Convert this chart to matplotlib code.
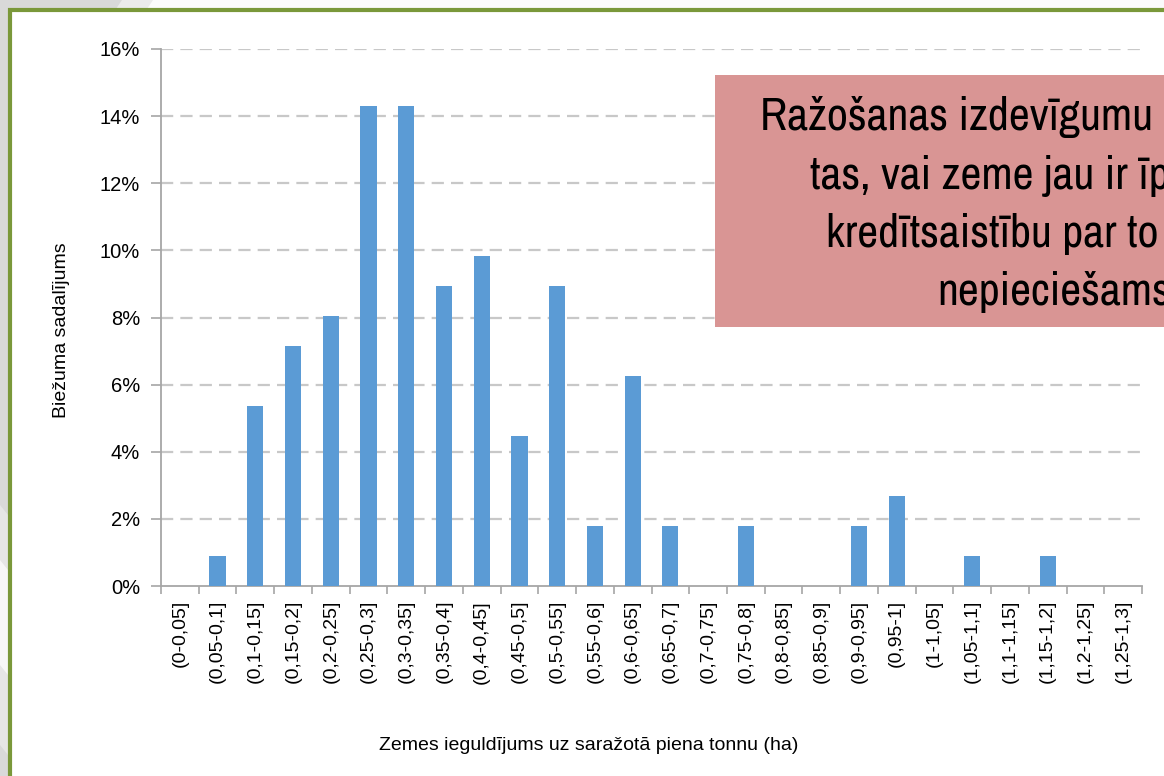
import matplotlib
matplotlib.use("Agg")
import matplotlib.pyplot as plt
from matplotlib import font_manager
from matplotlib.patches import Rectangle, Polygon
from matplotlib.ticker import FuncFormatter

categories = ["(0-0,05]", "(0,05-0,1]", "(0,1-0,15]", "(0,15-0,2]", "(0,2-0,25]",
              "(0,25-0,3]", "(0,3-0,35]", "(0,35-0,4]", "(0,4-0,45]", "(0,45-0,5]",
              "(0,5-0,55]", "(0,55-0,6]", "(0,6-0,65]", "(0,65-0,7]", "(0,7-0,75]",
              "(0,75-0,8]", "(0,8-0,85]", "(0,85-0,9]", "(0,9-0,95]", "(0,95-1]",
              "(1-1,05]", "(1,05-1,1]", "(1,1-1,15]", "(1,15-1,2]", "(1,2-1,25]",
              "(1,25-1,3]"]
values = [0.00, 0.89, 5.36, 7.14, 8.04,
          14.29, 14.29, 8.93, 9.82, 4.46,
          8.93, 1.79, 6.25, 1.79, 0.00,
          1.79, 0.00, 0.00, 1.79, 2.68,
          0.00, 0.89, 0.00, 0.89, 0.00,
          0.00]
y_ticks = [0, 2, 4, 6, 8, 10, 12, 14, 16]
x_label = "Zemes ieguldījums uz saražotā piena tonnu (ha)"
y_label = "Biežuma sadalījums"
box_lines = ["Ražošanas izdevīgumu", "tas, vai zeme jau ir īpašumā",
             "kredītsaistību par to", "nepieciešams"]

avail = sorted({f.name for f in font_manager.fontManager.ttflist})
base_font = "Liberation Sans" if "Liberation Sans" in avail else "DejaVu Sans"
if "Liberation Sans Narrow" in avail:
    narrow_font = "Liberation Sans Narrow"
else:
    cands = [n for n in avail if ("Narrow" in n or "Condensed" in n)]
    narrow_font = cands[0] if cands else None
plt.rcParams["font.family"] = [base_font, "DejaVu Sans"]

W, H = 1164, 776
fig = plt.figure(figsize=(W / 100, H / 100), dpi=100)
fig.patch.set_facecolor("#d9d9d9")

def fx(px):
    return px / W

def fy(py):
    return 1 - py / H

def bg_poly(pts, color):
    fig.patches.append(Polygon([(fx(a), fy(b)) for a, b in pts], closed=True,
                               transform=fig.transFigure, facecolor=color,
                               edgecolor="none", zorder=0))

# background diagonal bands (slide decoration)
bg_poly([(122, 0), (1164, 0), (1164, 12), (114, 12)], "#ebebeb")
bg_poly([(153, 0), (1164, 0), (1164, 12), (145, 12)], "#fbfbfb")
bg_poly([(0, 505), (12, 520), (12, 760), (0, 745)], "#e6e6e6")
bg_poly([(0, 560), (12, 575), (12, 680), (0, 665)], "#f7f7f7")

# white frame with olive border
fig.patches.append(Rectangle((fx(10.5), fy(800)), fx(1200), fy(10.5) - fy(800),
                             transform=fig.transFigure, facecolor="white",
                             edgecolor="#7a983a", linewidth=3, zorder=0.5))

ax = fig.add_axes([fx(161), fy(586), fx(1142) - fx(161), fy(49) - fy(586)])
ax.set_zorder(1)
ax.set_facecolor("none")
x = list(range(len(categories)))
ax.bar(x, values, width=0.43, color="#5b9bd5", zorder=3)

ax.set_xlim(-0.5, len(categories) - 0.5)
ax.set_ylim(0, 16)
ax.set_yticks(y_ticks)
ax.yaxis.set_major_formatter(FuncFormatter(lambda v, p: f"{int(v)}%"))
ax.set_xticks(x)
ax.set_xticklabels(categories, rotation=90, fontsize=14, va="top")
ax.set_xticks([i - 0.5 for i in range(len(categories) + 1)], minor=True)
ax.tick_params(axis="x", which="major", length=0, pad=10)
ax.tick_params(axis="x", which="minor", length=6, color="#a6a6a6", width=1.2)
ax.tick_params(axis="y", length=7, color="#a6a6a6", width=1.2, labelsize=14.5, pad=8)

for v in y_ticks[1:]:
    ax.axhline(v, color="#c8c8c8", linewidth=1.6, linestyle=(0, (5.5, 3.2)), zorder=1)

for s in ["top", "right"]:
    ax.spines[s].set_visible(False)
for s in ["left", "bottom"]:
    ax.spines[s].set_color("#a6a6a6")
    ax.spines[s].set_linewidth(1.3)

fig.text(fx(589), fy(745), x_label, ha="center", va="center", fontsize=14)
fig.text(fx(62), fy(330), y_label, ha="center", va="center", rotation=90, fontsize=14)

# pink annotation box
fig.patches.append(Rectangle((fx(715), fy(327)), fx(600), fy(75) - fy(327),
                             transform=fig.transFigure, facecolor="#d99594",
                             edgecolor="none", zorder=5))
line_x = [760, 810, 826, 937]
line_y = [117, 176, 234, 292]
if narrow_font:
    box_family = [narrow_font, "DejaVu Sans"]
    box_size = 33
else:
    box_family = [base_font, "DejaVu Sans"]
    box_size = 27.5
for t, lx, ly in zip(box_lines, line_x, line_y):
    fig.text(fx(lx), fy(ly), t, ha="left", va="center", fontsize=box_size,
             family=box_family, color="black", zorder=6)

fig.savefig("out.png", dpi=100, facecolor=fig.get_facecolor())
